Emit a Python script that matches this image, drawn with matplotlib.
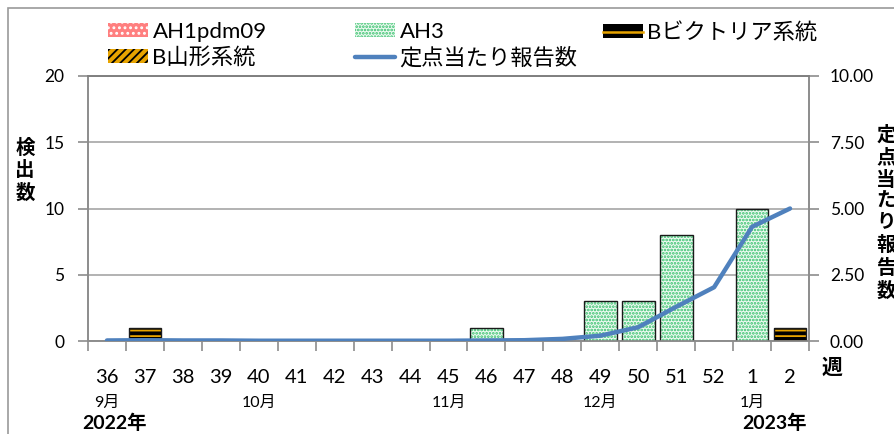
import matplotlib.pyplot as plt
import numpy as np
from matplotlib.patches import Patch, Rectangle
from matplotlib.lines import Line2D
import matplotlib.transforms as mtransforms

plt.rcParams['font.family'] = ['Lato', 'Noto Sans CJK JP', 'DejaVu Sans']
plt.rcParams['hatch.linewidth'] = 1.3

weeks = ['36', '37', '38', '39', '40', '41', '42', '43', '44', '45', '46',
         '47', '48', '49', '50', '51', '52', '1', '2']
ah1pdm09 = [0] * 19
ah3 = [0, 0, 0, 0, 0, 0, 0, 0, 0, 0, 1, 0, 0, 3, 3, 8, 0, 10, 0]
b_victoria = [0, 1, 0, 0, 0, 0, 0, 0, 0, 0, 0, 0, 0, 0, 0, 0, 0, 0, 1]
b_yamagata = [0] * 19
per_site = [0.02, 0.03, 0.02, 0.02, 0.01, 0.01, 0.01, 0.01, 0.01, 0.01,
            0.02, 0.03, 0.08, 0.20, 0.52, 1.29, 2.03, 4.31, 5.00]
months = {0: '9月', 4: '10月', 9: '11月', 13: '12月', 17: '1月'}
years = {0: '2022年', 17: '2023年'}

fig = plt.figure(figsize=(8.95, 4.34), dpi=100)
ax = fig.add_axes([88 / 895, 1 - 341 / 434, 721 / 895, 265 / 434])
ax2 = ax.twinx()

# light frame around the whole chart area
fig.patches.append(Rectangle((8 / 895, -0.1), 1.2, 1.1 - 8 / 434,
                             transform=fig.transFigure, fill=False,
                             edgecolor='#9a9a9a', linewidth=1.2))

x = np.arange(len(weeks))
width = 0.86
styles = [
    (ah1pdm09, '#ff7f7f', 'white', '..'),
    (ah3, '#eefaf2', '#33c06a', '.....'),
    (b_victoria, 'black', '#e8a400', '---'),
    (b_yamagata, '#e8a400', 'black', '////'),
]
bottom = np.zeros(len(weeks))
for vals, face, hatch_col, hatch in styles:
    v = np.array(vals, dtype=float)
    m = v > 0
    if m.any():
        ax.bar(x[m], v[m], width, bottom=bottom[m], color=face,
               edgecolor=hatch_col, hatch=hatch, linewidth=0, zorder=3)
        ax.bar(x[m], v[m], width, bottom=bottom[m], fill=False,
               edgecolor='#1a1a1a', linewidth=1.0, zorder=4)
    bottom += v

ax2.plot(x, per_site, color='#4f81bd', linewidth=3.2,
         solid_capstyle='round', zorder=5)

ax.set_xlim(-0.5, len(weeks) - 0.5)
ax.set_ylim(0, 20)
ax2.set_ylim(0, 10)
ax.set_yticks([0, 5, 10, 15, 20])
ax2.set_yticks([0, 2.5, 5, 7.5, 10])
ax2.set_yticklabels(['0.00', '2.50', '5.00', '7.50', '10.00'])
ax.grid(axis='y', color='#a6a6a6', linewidth=1.2, zorder=0)
ax.set_axisbelow(True)

ax.set_xticks(x)
ax.set_xticklabels(weeks, fontsize=14.5)
ax.set_xticks(np.arange(-0.5, len(weeks)), minor=True)
ax.tick_params(axis='x', which='major', length=0, pad=20)
ax.tick_params(axis='x', which='minor', length=7, width=1.2,
               color='#8c8c8c', direction='out')
ax.tick_params(axis='y', length=7, width=1.2, color='#8c8c8c',
               labelsize=12.5, pad=10)
ax2.tick_params(axis='y', length=7, width=1.2, color='#8c8c8c',
                labelsize=12.5, pad=8)

for a in (ax, ax2):
    for side in ('left', 'right', 'bottom'):
        a.spines[side].set_color('#8c8c8c')
        a.spines[side].set_linewidth(1.2)
    a.spines['top'].set_color('#7f7f7f')
    a.spines['top'].set_linewidth(1.2)

trans = mtransforms.blended_transform_factory(ax.transData, ax.transAxes)
for i, label in months.items():
    ax.text(i, -0.235, label, transform=trans, ha='center', va='center',
            fontsize=11.5)
for i, label in years.items():
    ax.text(i - 0.65 if i == 0 else i + 1.45, -0.31, label, transform=trans,
            ha='left' if i == 0 else 'right', va='center',
            fontsize=14, fontweight='bold')

fig.text(25 / 895, 1 - 170 / 434, '検\n出\n数', ha='center', va='center',
         fontsize=14, fontweight='bold', linespacing=1.2)
fig.text(886 / 895, 1 - 212 / 434, '定\n点\n当\nた\nり\n報\n告\n数',
         ha='center', va='center', fontsize=14, fontweight='bold',
         linespacing=1.25)
fig.text(832 / 895, 1 - 368 / 434, '週', ha='center', va='center',
         fontsize=15, fontweight='bold')

# legend, laid out as three columns
h_ah1 = Patch(facecolor='#ff7f7f', edgecolor='white', hatch='...',
              linewidth=0)
h_ah3 = Patch(facecolor='#eefaf2', edgecolor='#33c06a', hatch='.....',
              linewidth=0)
h_bv = (Patch(facecolor='black', edgecolor='black', linewidth=0),
        Line2D([], [], color='#e8a400', linewidth=1.8))
h_by = Patch(facecolor='#e8a400', edgecolor='black', hatch='////',
             linewidth=0)
h_line = Line2D([], [], color='#4f81bd', linewidth=3.2,
                solid_capstyle='round')
columns = [
    (108, [h_ah1, h_by], ['AH1pdm09', 'B山形系統']),
    (355, [h_ah3, h_line], ['AH3', '定点当たり報告数']),
    (603, [h_bv], ['Bビクトリア系統']),
]
for xpos, handles, labels in columns:
    leg = fig.legend(handles, labels, loc='upper left',
                     bbox_to_anchor=(xpos / 895, 1 - 22 / 434),
                     frameon=False, fontsize=16, borderpad=0,
                     borderaxespad=0, handlelength=1.8, handleheight=0.55,
                     handletextpad=0.2, labelspacing=0.22)

fig.savefig('out.png', dpi=100)
